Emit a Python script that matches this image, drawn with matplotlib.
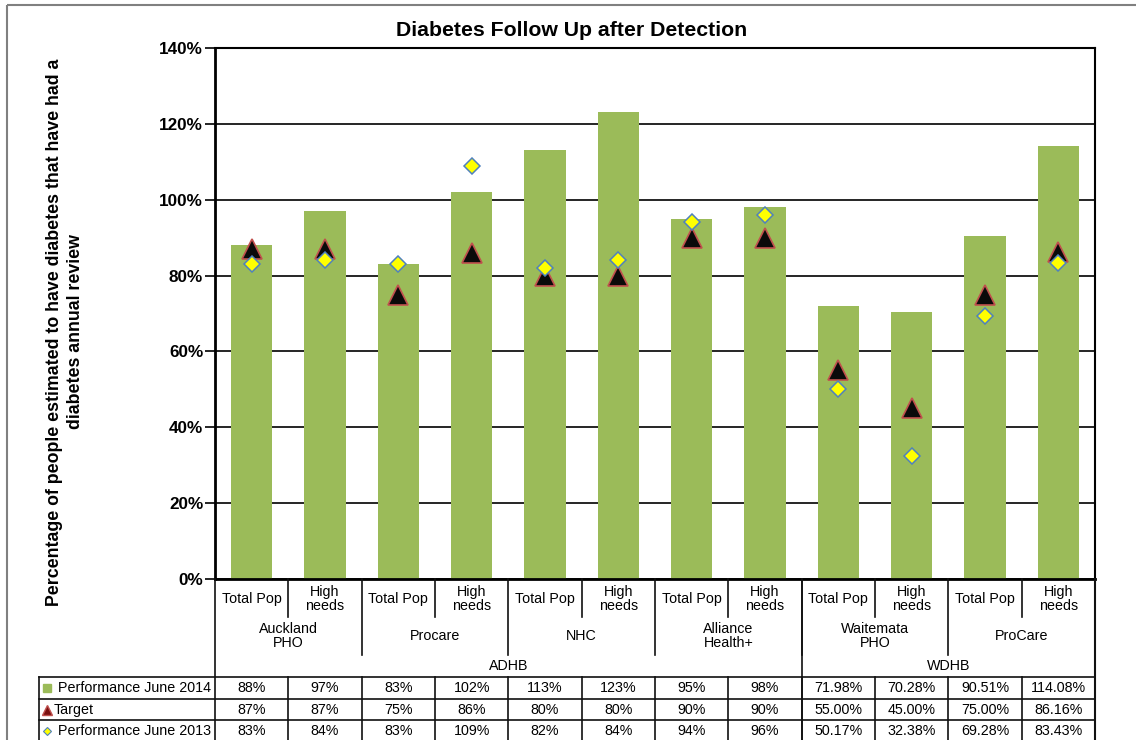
import matplotlib
matplotlib.use("Agg")
import matplotlib.pyplot as plt

# ---------------- data ----------------
sub_labels = ["Total Pop", "High\nneeds"] * 6
groups = ["Auckland\nPHO", "Procare", "NHC", "Alliance\nHealth+", "Waitemata\nPHO", "ProCare"]
dhbs = ["ADHB", "WDHB"]
dhb_span = [8, 4]
series_names = ["Performance June 2014", "Target", "Performance June 2013"]
perf_2014 = [88, 97, 83, 102, 113, 123, 95, 98, 71.98, 70.28, 90.51, 114.08]
target = [87, 87, 75, 86, 80, 80, 90, 90, 55.00, 45.00, 75.00, 86.16]
perf_2013 = [83, 84, 83, 109, 82, 84, 94, 96, 50.17, 32.38, 69.28, 83.43]
decimals = [0] * 8 + [2] * 4
yticks = [0, 20, 40, 60, 80, 100, 120, 140]
title = "Diabetes Follow Up after Detection"
ylabel = "Percentage of people estimated to have diabetes that have had a\ndiabetes annual review"

plt.rcParams['font.family'] = ['Liberation Sans', 'DejaVu Sans']

W, H = 1136, 740
fig = plt.figure(figsize=(W / 100, H / 100), dpi=100)
L, R, T, B = 215, 1095, 48, 579
ax = fig.add_axes([L / W, 1 - B / H, (R - L) / W, (B - T) / H])

n = len(perf_2014)
x = list(range(n))
GREEN = '#9BBB59'
RED = '#C0504D'
BLUE = '#4F81BD'
FS = 10.3

ax.bar(x, perf_2014, width=0.56, color=GREEN, zorder=2)
ax.plot(x, target, ls='none', marker='^', ms=14.5, mfc='#0a0a0a', mec=RED, mew=1.2, zorder=3)
ax.plot(x, perf_2013, ls='none', marker='D', ms=8.5, mfc='#FFFF00', mec=BLUE, mew=1.1, zorder=4)

ax.set_xlim(-0.5, n - 0.5)
ax.set_ylim(0, 140)
ax.set_yticks(yticks)
ax.set_yticklabels([f"{v}%" for v in yticks], fontweight='bold', fontsize=12.3)
ax.set_xticks([])
ax.tick_params(axis='y', direction='out', length=7, width=1.2, pad=1.5, color='black')
ax.yaxis.grid(True, color='black', lw=1.2)
ax.set_axisbelow(True)
for s, lw in [('left', 2), ('bottom', 2), ('top', 1.5), ('right', 1.5)]:
    ax.spines[s].set_linewidth(lw)
    ax.spines[s].set_color('black')

# ---------------- overlay for table & texts (pixel coordinates) ----------------
ov = fig.add_axes([0, 0, 1, 1], zorder=5)
ov.set_xlim(0, W)
ov.set_ylim(H, 0)
ov.axis('off')

# outer chart border
ov.plot([7, 7], [5, H], color='#808080', lw=1.5, solid_capstyle='butt')
ov.plot([7, W], [5, 5], color='#808080', lw=1.5, solid_capstyle='butt')

fig.text(572 / W, 1 - 31 / H, title, ha='center', va='center', fontsize=15.3, fontweight='bold')
fig.text(65 / W, 1 - 332 / H, ylabel, ha='center', va='center', rotation=90,
         fontsize=12.8, fontweight='bold', multialignment='center', linespacing=1.3)

cw = (R - L) / n
def colx(i):
    return L + i * cw

LC = '#111111'
LW = 1.2
# sub-labels row
for i, lab in enumerate(sub_labels):
    ov.text(colx(i) + cw / 2, 599, lab, ha='center', va='center', fontsize=FS, linespacing=0.95)
# separators within groups
for g in range(len(groups)):
    xi = colx(2 * g + 1)
    ov.plot([xi, xi], [B, 617], color=LC, lw=LW)
# group labels
for g, lab in enumerate(groups):
    ov.text(colx(2 * g) + cw, 636, lab, ha='center', va='center', fontsize=FS, linespacing=0.95)
    if g > 0:
        xi = colx(2 * g)
        ov.plot([xi, xi], [B, 655], color=LC, lw=LW)
# dhb labels
start = 0
for d, span in zip(dhbs, dhb_span):
    ov.text(colx(start) + span * cw / 2, 666, d, ha='center', va='center', fontsize=FS)
    if start > 0:
        ov.plot([colx(start), colx(start)], [B, H], color=LC, lw=LW)
    start += span
# left & right border of category area
ov.plot([L, L], [B, H], color=LC, lw=LW)
ov.plot([R, R], [B, H], color=LC, lw=1.5)

# data table
row_tops = [677, 699, 720]
row_centers = [688, 710, 731]
for yy in row_tops:
    ov.plot([39, R], [yy, yy], color=LC, lw=LW)
ov.plot([39, 39], [677, H], color=LC, lw=LW)
for i in range(1, n):
    ov.plot([colx(i), colx(i)], [677, H], color=LC, lw=LW)

for r, vals in enumerate([perf_2014, target, perf_2013]):
    for i, v in enumerate(vals):
        ov.text(colx(i) + cw / 2, row_centers[r], f"{v:.{decimals[i]}f}%",
                ha='center', va='center', fontsize=FS)

# legend keys
ov.plot([47], [688], ls='none', marker='s', ms=5.5, mfc=GREEN, mec=GREEN)
ov.plot([47], [710], ls='none', marker='^', ms=6.5, mfc='#7a1010', mec=RED, mew=1)
ov.plot([47], [731], ls='none', marker='D', ms=4, mfc='#FFFF00', mec=BLUE, mew=0.8)
ov.text(58, 688, series_names[0], ha='left', va='center', fontsize=FS)
ov.text(54, 710, series_names[1], ha='left', va='center', fontsize=FS)
ov.text(58, 731, series_names[2], ha='left', va='center', fontsize=FS)

fig.savefig('out.png', dpi=100, facecolor='white')
